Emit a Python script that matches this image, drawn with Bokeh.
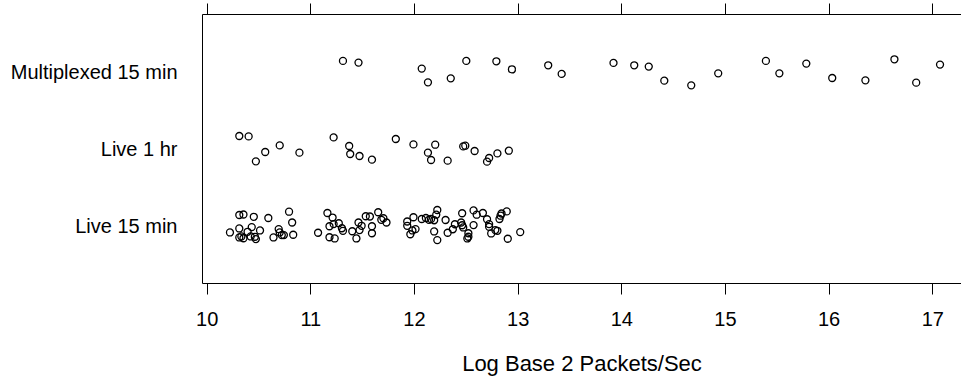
from bokeh.plotting import figure
from bokeh.models import FixedTicker, LinearAxis, Range1d, ColumnDataSource, CustomLabelingPolicy
from bokeh.embed import file_html
from bokeh.resources import INLINE

categories = ["Live 15 min", "Live 1 hr", "Multiplexed 15 min"]
x_ticks = [10, 11, 12, 13, 14, 15, 16, 17]
x_title = "Log Base 2 Packets/Sec"

# log2 packets/sec values and the vertical jitter
live15_rate = [
    10.22, 10.31, 10.35, 10.45, 10.59, 10.79, 10.82, 10.31, 10.39, 10.43,
    10.51, 10.31, 10.33, 10.35, 10.42, 10.47, 10.46, 10.64, 10.69, 10.70,
    10.72, 10.74, 10.83,
    11.07, 11.16, 11.21, 11.18, 11.22, 11.27, 11.30, 11.31, 11.18, 11.23,
    11.40, 11.44, 11.46, 11.47, 11.49, 11.53, 11.57, 11.59, 11.59, 11.65,
    11.68, 11.70, 11.73,
    11.93, 11.93, 11.96, 11.98, 11.99, 12.01, 12.07, 12.11, 12.14, 12.16,
    12.19, 12.21, 12.22, 12.19, 12.22, 12.30, 12.32, 12.37, 12.39, 12.46,
    12.45, 12.46, 12.47, 12.52, 12.52, 12.51, 12.57, 12.57, 12.60, 12.66,
    12.70, 12.72, 12.72, 12.74, 12.78, 12.80, 12.82, 12.83, 12.84, 12.89,
    12.90, 13.02,
]
live15_jitter = [
    -0.086, 0.141, 0.148, 0.118, 0.102, 0.184, 0.044, -0.034, -0.077, -0.016,
    -0.060, -0.151, -0.138, -0.161, -0.138, -0.172, -0.142, -0.151, -0.042, -0.086,
    -0.120, -0.120, -0.116,
    -0.090, 0.167, 0.108, -0.005, 0.023, 0.034, -0.031, -0.064, -0.148, -0.164,
    -0.070, -0.164, 0.044, -0.055, 0.001, 0.125, 0.122, -0.005, -0.096, 0.177,
    0.079, 0.099, 0.044,
    0.057, 0.001, -0.109, -0.060, 0.112, -0.042, 0.089, 0.102, 0.079, 0.089,
    0.073, 0.145, 0.206, -0.073, -0.185, 0.076, -0.090, -0.044, 0.021, 0.164,
    0.044, 0.008, -0.021, -0.096, -0.142, -0.164, 0.010, 0.201, 0.145, 0.167,
    0.086, 0.023, -0.012, -0.099, -0.055, -0.064, 0.089, 0.132, 0.161, 0.188,
    -0.168, -0.081,
]
live1h_rate = [
    10.31, 10.40, 10.47, 10.56, 10.70, 10.89, 11.22, 11.37, 11.38, 11.47,
    11.59, 11.82, 11.99, 12.13, 12.20, 12.16, 12.32, 12.47, 12.49, 12.58,
    12.70, 12.72, 12.80, 12.91,
]
live1h_jitter = [
    0.169, 0.164, -0.161, -0.039, 0.047, -0.048, 0.151, 0.039, -0.065, -0.091,
    -0.139, 0.130, 0.060, -0.048, 0.056, -0.143, -0.152, 0.034, 0.043, -0.026,
    -0.165, -0.117, -0.057, -0.022,
]
multi_rate = [
    11.31, 11.46, 12.07, 12.13, 12.35, 12.50, 12.79, 12.94, 13.29, 13.42,
    13.92, 14.12, 14.26, 14.41, 14.67, 14.93, 15.39, 15.52, 15.78, 16.03,
    16.35, 16.63, 16.84, 17.07,
]
multi_jitter = [
    0.146, 0.124, 0.046, -0.133, -0.081, 0.146, 0.141, 0.036, 0.089, -0.023,
    0.120, 0.089, 0.072, -0.111, -0.172, -0.016, 0.146, -0.016, 0.111, -0.076,
    -0.107, 0.167, -0.137, 0.098,
]

groups = [(live15_rate, live15_jitter), (live1h_rate, live1h_jitter), (multi_rate, multi_jitter)]
xs, ys = [], []
for i, (rates, jit) in enumerate(groups):
    for r, j in zip(rates, jit):
        xs.append(r)
        ys.append(i + 1 + j)
src = ColumnDataSource(dict(x=xs, y=ys))

FONT = "Liberation Sans"

p = figure(width=961, height=379, output_backend="svg", toolbar_location=None,
           x_range=Range1d(9.955, 17.277), y_range=Range1d(0.25, 3.75),
           min_border_left=202, min_border_right=0, min_border_top=14,
           min_border_bottom=96)
p.grid.visible = False
p.outline_line_color = None
p.background_fill_color = "white"
p.border_fill_color = "white"

p.scatter("x", "y", source=src, marker="circle", size=7, fill_color=None,
          line_color="black", line_width=1.3)

xa = p.xaxis[0]
xa.ticker = FixedTicker(ticks=x_ticks)
xa.major_tick_out = 11
xa.major_tick_in = 0
xa.minor_tick_out = 0
xa.minor_tick_in = 0
xa.axis_line_color = "black"
xa.major_tick_line_color = "black"
xa.major_label_text_font = FONT
xa.major_label_text_font_size = "20px"
xa.major_label_text_color = "black"
xa.major_label_standoff = 17
xa.axis_label = x_title
xa.axis_label_text_font = FONT
xa.axis_label_text_font_style = "normal"
xa.axis_label_text_font_size = "22px"
xa.axis_label_text_color = "black"
xa.axis_label_standoff = 22

ya = p.yaxis[0]
ya.ticker = FixedTicker(ticks=[1, 2, 3])
ya.major_label_overrides = {1: categories[0], 2: categories[1], 3: categories[2]}
ya.major_tick_out = 0
ya.major_tick_in = 0
ya.minor_tick_out = 0
ya.minor_tick_in = 0
ya.axis_line_color = "black"
ya.major_label_text_font = FONT
ya.major_label_text_font_size = "20px"
ya.major_label_text_color = "black"
ya.major_label_standoff = 25

top = LinearAxis(ticker=FixedTicker(ticks=x_ticks))
top.major_tick_out = 11
top.major_tick_in = 0
top.minor_tick_out = 0
top.minor_tick_in = 0
top.major_label_text_font_size = "0px"
top.major_label_standoff = 0
top.major_label_policy = CustomLabelingPolicy(
    code="for (const i of indices) { indices.unset(i) } return indices")
top.axis_line_color = "black"
top.major_tick_line_color = "black"
p.add_layout(top, "above")

open("out.html", "w").write(file_html(p, INLINE))
